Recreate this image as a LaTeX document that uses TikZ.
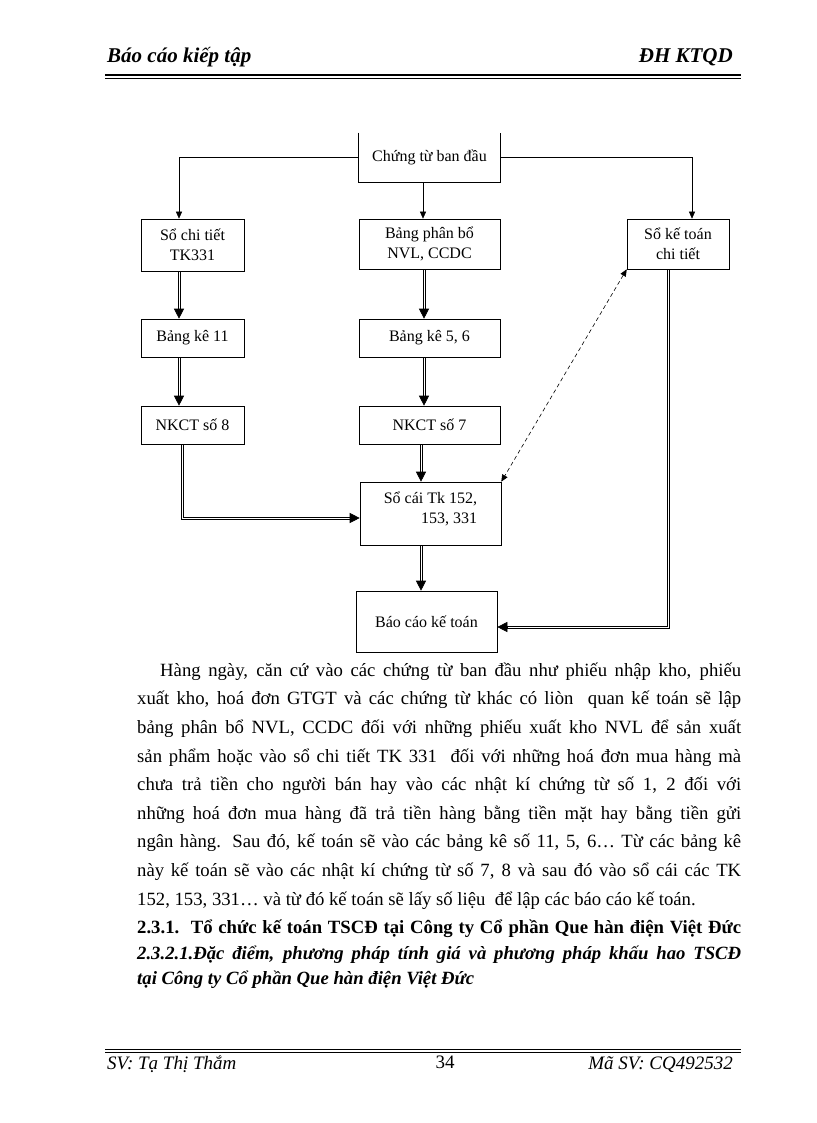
\documentclass[tikz,border=0pt]{standalone}
\usepackage{fontspec}
\setmainfont{Liberation Serif}
\usetikzlibrary{arrows.meta}

\tikzset{
  box/.style={draw, line width=0.6pt, inner sep=2pt, align=center, font=\fontsize{16}{20}\selectfont},
  thinarrow/.style={line width=0.6pt, -{Triangle[length=7pt,width=6pt]}},
  rail/.style={line width=0.7pt},
  dbltip/.style={line width=0.6pt, -{Triangle[length=10pt,width=10pt]}},
  dasharrow/.style={line width=0.6pt, dash pattern=on 4pt off 3pt, {Triangle[length=7pt,width=6pt]}-{Triangle[length=7pt,width=6pt]}},
  bodytext/.style={inner sep=0pt, font=\fontsize{18.7}{28.6}\selectfont},
}

% double connector going straight down between two named coordinates
\newcommand{\dbldown}[2]{%
  \draw[rail] ([xshift=-1.1pt]#1) -- ([xshift=-1.1pt,yshift=9pt]#2);
  \draw[rail] ([xshift=1.1pt]#1) -- ([xshift=1.1pt,yshift=9pt]#2);
  \draw[dbltip] ([yshift=10pt]#2) -- (#2);}

\begin{document}
\begin{tikzpicture}[x=1pt,y=-1pt]
\useasboundingbox (0,0) rectangle (816,1123);

% header
\node[anchor=base west, inner sep=0pt, font=\fontsize{21}{25}\selectfont\bfseries\itshape] (hl) at (107,63) {Báo cáo kiếp tập};
\node[anchor=base east, inner sep=0pt, font=\fontsize{21}{25}\selectfont\bfseries\itshape] (hr) at (733,63) {ĐH KTQD};
\draw[line width=1.6pt] (105,75) -- (741,75);
\draw[line width=0.6pt] (105,78.5) -- (741,78.5);

% boxes
\node[box, draw=none, minimum width=141pt, minimum height=49pt] (ct) at (429.5,157.5) {Chứng từ ban đầu};
\draw[line width=0.6pt] (ct.north west) -- (ct.south west) -- (ct.south east) -- (ct.north east);
\node[box, minimum width=103pt, minimum height=52pt] (sct) at (192.5,245) {Sổ chi tiết\\TK331};
\node[box, minimum width=141pt, minimum height=50pt] (bpb) at (429.5,244) {Bảng phân bổ\\NVL, CCDC};
\node[box, minimum width=102pt, minimum height=50pt] (skt) at (678,244) {Sổ kế toán\\chi tiết};
\node[box, minimum width=103pt, minimum height=38pt] (bk11) at (192.5,338) {Bảng kê 11};
\node[box, minimum width=141pt, minimum height=38pt] (bk56) at (429.5,338) {Bảng kê 5, 6};
\node[box, minimum width=103pt, minimum height=38pt] (nk8) at (192.5,425) {NKCT số 8};
\node[box, minimum width=141pt, minimum height=38pt] (nk7) at (429.5,425) {NKCT số 7};
\node[box, align=right, text depth=12pt, minimum width=141pt, minimum height=63pt] (sc) at (430.5,513.5) {Sổ cái Tk 152,\\153, 331};
\node[box, minimum width=141pt, minimum height=61pt] (bc) at (426.5,621.5) {Báo cáo kế toán};

% single connectors
\draw[thinarrow] (ct.west) -| ([xshift=-13.5pt]sct.north);
\draw[thinarrow] (ct.east) -| ([xshift=14pt]skt.north);
\draw[thinarrow] ([xshift=-6.5pt]ct.south) -- ([xshift=-6.5pt]bpb.north);

% double connectors
\coordinate (sct-out) at ([xshift=-13.5pt]sct.south);
\coordinate (bk11-in) at ([xshift=-13.5pt]bk11.north);
\coordinate (bk11-out) at ([xshift=-13.5pt]bk11.south);
\coordinate (nk8-in) at ([xshift=-13.5pt]nk8.north);
\coordinate (bpb-out) at ([xshift=-5.5pt]bpb.south);
\coordinate (bk56-in) at ([xshift=-5.5pt]bk56.north);
\coordinate (bk56-out) at ([xshift=-5.5pt]bk56.south);
\coordinate (nk7-in) at ([xshift=-5.5pt]nk7.north);
\coordinate (nk7-out) at ([xshift=-8.5pt]nk7.south);
\coordinate (sc-in) at ([xshift=-9.5pt]sc.north);
\coordinate (sc-out) at ([xshift=-9.5pt]sc.south);
\coordinate (bc-in) at ([xshift=-5.5pt]bc.north);
\dbldown{sct-out}{bk11-in}
\dbldown{bk11-out}{nk8-in}
\dbldown{bpb-out}{bk56-in}
\dbldown{bk56-out}{nk7-in}
\dbldown{nk7-out}{sc-in}
\dbldown{sc-out}{bc-in}

\coordinate (nk8-out) at ([xshift=-10.5pt]nk8.south);
\coordinate (sc-left) at ([yshift=-4.5pt]sc.west);
\draw[rail] ([xshift=-1.1pt]nk8-out) |- ([xshift=-9pt,yshift=-1.1pt]sc-left);
\draw[rail] ([xshift=1.1pt]nk8-out) |- ([xshift=-9pt,yshift=1.1pt]sc-left);
\draw[dbltip] ([xshift=-10pt]sc-left) -- (sc-left);

\coordinate (skt-out) at ([xshift=-10pt]skt.south);
\coordinate (bc-right) at ([yshift=-5.5pt]bc.east);
\draw[rail] ([xshift=1.1pt]skt-out) |- ([xshift=9pt,yshift=-1.1pt]bc-right);
\draw[rail] ([xshift=-1.1pt]skt-out) |- ([xshift=9pt,yshift=1.1pt]bc-right);
\draw[dbltip] ([xshift=10pt]bc-right) -- (bc-right);

\draw[dasharrow] (skt.south west) -- (sc.north east);

% paragraph
\node[bodytext, anchor=north west, text width=604pt, align=justify] (para) at (137,656) {\hspace*{23pt}\strut Hàng ngày, căn cứ vào các chứng từ ban đầu như phiếu nhập kho, phiếu\linebreak
xuất kho, hoá đơn GTGT và các chứng từ khác có liòn\ \ quan kế toán sẽ lập\linebreak
bảng phân bổ NVL, CCDC đối với những phiếu xuất kho NVL để sản xuất\linebreak
sản phẩm hoặc vào sổ chi tiết TK 331\ \ đối với những hoá đơn mua hàng mà\linebreak
chưa trả tiền cho người bán hay vào các nhật kí chứng từ số 1, 2 đối với\linebreak
những hoá đơn mua hàng đã trả tiền hàng bằng tiền mặt hay bằng tiền gửi\linebreak
ngân hàng. Sau đó, kế toán sẽ vào các bảng kê số 11, 5, 6… Từ các bảng kê\linebreak
này kế toán sẽ vào các nhật kí chứng từ số 7, 8 và sau đó vào sổ cái các TK\linebreak
152, 153, 331… và từ đó kế toán sẽ lấy số liệu\ \ để lập các báo cáo kế toán.};

% headings
\node[bodytext, anchor=base west, font=\fontsize{18.7}{28.6}\selectfont\bfseries] (h1) at (137,933) {\makebox[604pt][s]{2.3.1.\ \ Tổ chức kế toán TSCĐ tại Công ty Cổ phần Que hàn điện Việt Đức}};
\node[bodytext, anchor=base west, font=\fontsize{18.7}{28.6}\selectfont\bfseries\itshape] (h2) at (137,959) {\makebox[604pt][s]{2.3.2.1.Đặc điểm, phương pháp tính giá và phương pháp khấu hao TSCĐ}};
\node[bodytext, anchor=base west, font=\fontsize{18.7}{28.6}\selectfont\bfseries\itshape] (h3) at (137,984) {tại Công ty Cổ phần Que hàn điện Việt Đức};

% footer
\draw[line width=0.6pt] (105,1049.5) -- (741,1049.5);
\draw[line width=1.6pt] (105,1052.5) -- (741,1052.5);
\node[anchor=base west, inner sep=0pt, font=\fontsize{19}{23}\selectfont\itshape] (sv) at (107,1069) {SV: Tạ Thị Thắm};
\node[anchor=base, inner sep=0pt, font=\fontsize{19}{23}\selectfont] (pg) at (445,1068) {34};
\node[anchor=base east, inner sep=0pt, font=\fontsize{19}{23}\selectfont\itshape] (msv) at (733,1069) {Mã SV: CQ492532};
\end{tikzpicture}
\end{document}
